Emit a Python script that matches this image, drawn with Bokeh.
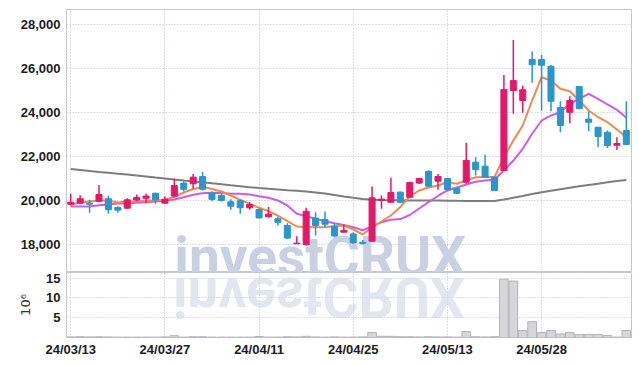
from bokeh.plotting import figure
from bokeh.layouts import column
from bokeh.models import ColumnDataSource, Range1d, FixedTicker, NumeralTickFormatter, Label, Div
from bokeh.embed import file_html
from bokeh.resources import INLINE

# ---------------- data ----------------
tick_pos = [0, 10, 20, 30, 40, 50]
tick_labels = ["24/03/13", "24/03/27", "24/04/11", "24/04/25", "24/05/13", "24/05/28"]

opens = [19830, 19880, 19880, 19970, 20080, 19680, 19650, 20020, 20100, 20330,
         19880, 20200, 20790, 20760, 21090, 20350, 20230, 19940, 19990, 19670,
         19590, 19260, 19170, 18860, 18030, 17990, 19200, 19140, 18820, 18560,
         18480, 18100, 18150, 20000, 19920, 20380, 20150, 20790, 21330, 20880,
         21000, 20560, 20830, 21740, 21560, 21060, 21360, 25000, 24545, 26410,
         26410, 26100, 24230, 24010, 25180, 23700, 23330, 23100, 22510, 23180]
highs = [20310, 20240, 20030, 20710, 20230, 19740, 20100, 20270, 20320, 20350,
         20180, 20990, 20860, 21210, 21290, 20410, 20300, 20060, 20030, 19920,
         19640, 19700, 19270, 18970, 18380, 19670, 19470, 19500, 18940, 18910,
         18560, 18210, 20640, 20230, 21030, 20410, 20850, 21030, 21360, 21210,
         21030, 20600, 22620, 21970, 22080, 21100, 25710, 27300, 25230, 26770,
         26620, 26170, 24510, 24740, 25180, 24050, 23330, 23180, 22880, 24510]
lows = [19770, 19850, 19440, 19920, 19400, 19440, 19620, 19970, 19900, 19850,
        19850, 20150, 20420, 20530, 20450, 19970, 19950, 19580, 19400, 19580,
        19180, 19230, 18860, 18260, 18030, 17950, 18410, 18770, 18330, 18560,
        18030, 18000, 18150, 19620, 19890, 19880, 20120, 20760, 20640, 20490,
        20450, 20300, 20760, 21140, 21030, 20450, 21360, 23940, 23990, 25350,
        24090, 24060, 23100, 23510, 24170, 23150, 22420, 22390, 22300, 22550]
closes = [19920, 20080, 19830, 20270, 19580, 19560, 20030, 20140, 20200, 20030,
          20060, 20680, 20510, 21060, 20510, 20050, 20000, 19740, 19670, 19820,
          19210, 19380, 19010, 18290, 18060, 19510, 18860, 18920, 18390, 18640,
          18080, 18050, 20120, 20060, 20360, 19920, 20820, 21000, 20650, 21090,
          20500, 20330, 21820, 21400, 21060, 20450, 25045, 25450, 25030, 26170,
          26150, 24510, 23410, 24550, 24170, 23560, 22910, 22500, 22590, 22550]

ma_short = [19818, 19909, 19955, 20000, 20000, 19909, 19955, 19955, 20000, 20000,
            20023, 20159, 20364, 20523, 20614, 20523, 20409, 20227, 20032, 19850,
            19668, 19514, 19318, 19059, 18818, 18795, 18786, 18795, 18832, 18864,
            18682, 18455, 18773, 19045, 19318, 19705, 20182, 20455, 20591, 20682,
            20832, 20759, 20909, 21059, 21068, 21068, 21968, 22727, 23409, 24545,
            25605, 25455, 25077, 24968, 24545, 24091, 23786, 23559, 23227, 22877]
ma_mid = [19727, 19727, 19727, 19786, 19818, 19864, 19864, 19895, 19923, 19955,
          20000, 20045, 20150, 20259, 20332, 20350, 20341, 20305, 20305, 20273,
          20195, 20123, 20000, 19773, 19395, 19286, 19168, 19059, 18968, 18886,
          18786, 18650, 18818, 19014, 19127, 19155, 19341, 19636, 19923, 20205,
          20455, 20591, 20727, 20855, 20909, 20945, 21364, 21818, 22350, 23032,
          23636, 23864, 24014, 24395, 24623, 24850, 24623, 24364, 24123, 23759]
ma_long = [21432, 21386, 21341, 21295, 21259, 21218, 21177, 21136, 21091, 21045,
           21000, 20955, 20909, 20864, 20832, 20786, 20741, 20695, 20650, 20605,
           20568, 20532, 20500, 20468, 20441, 20409, 20364, 20318, 20250, 20182,
           20123, 20068, 20036, 20023, 20014, 20009, 20000, 20000, 20000, 20000,
           19991, 19986, 19982, 19977, 19973, 19973, 20045, 20123, 20205, 20291,
           20373, 20445, 20514, 20582, 20645, 20705, 20764, 20827, 20882, 20932]

volume_m = [0.15, 0.2, 0.15, 0.2, 0.15, 0.1, 0.1, 0.1, 0.1, 0.1,
            0.15, 0.45, 0.1, 0.2, 0.2, 0.1, 0.1, 0.1, 0.1, 0.1,
            0.25, 0.1, 0.1, 0.2, 0.15, 0.3, 0.15, 0.1, 0.15, 0.1,
            0.1, 0.15, 1.25, 0.3, 0.3, 0.2, 0.2, 0.15, 0.2, 0.15,
            0.15, 0.1, 1.5, 0.2, 0.15, 0.2, 14.7, 14.25, 1.75, 4.0,
            1.25, 1.75, 0.9, 1.25, 0.75, 0.75, 0.75, 0.5, 0.1, 1.75]

price_ticks = [18000, 20000, 22000, 24000, 26000, 28000]
vol_ticks = [5, 10, 15]

# ---------------- styling ----------------
UP = "#e2186b"
DOWN = "#2c95c9"
GRID = "#b7bdd6"
OUTLINE = "#c4c8d2"
TICK_FONT = "Liberation Sans"

n = len(opens)
xs = list(range(n))
colors = [UP if c >= o else DOWN for o, c in zip(opens, closes)]
src = ColumnDataSource(dict(
    x=xs, open=opens, high=highs, low=lows, close=closes,
    top=[max(o, c) for o, c in zip(opens, closes)],
    bottom=[min(o, c) for o, c in zip(opens, closes)],
    color=colors, ma_s=ma_short, ma_m=ma_mid, ma_l=ma_long, vol=volume_m,
))

x_range = Range1d(-0.45, 59.55)

def style_axis(ax):
    ax.axis_line_color = None
    ax.major_tick_line_color = None
    ax.minor_tick_line_color = None
    ax.major_tick_out = 0
    ax.major_tick_in = 0
    ax.minor_tick_out = 0
    ax.minor_tick_in = 0
    ax.major_label_text_font = TICK_FONT
    ax.major_label_text_font_size = "13px"
    ax.major_label_text_font_style = "bold"
    ax.major_label_text_color = "#1c1c1c"

def style(fig):
    fig.outline_line_color = OUTLINE
    fig.outline_line_width = 1
    fig.background_fill_color = "white"
    fig.border_fill_color = "white"
    for g in (fig.xgrid, fig.ygrid):
        g.grid_line_color = GRID
        g.grid_line_dash = "1 2"
        g.grid_line_width = 1
    for ax in fig.yaxis:
        style_axis(ax)
        ax.major_label_standoff = 6

p = figure(width=639, height=272, x_range=x_range, y_range=Range1d(16727, 28682),
           output_backend="svg", toolbar_location=None, x_axis_location=None,
           min_border_left=66, min_border_right=8, min_border_top=9, min_border_bottom=0)
style(p)
p.xgrid.ticker = FixedTicker(ticks=tick_pos)
p.yaxis.ticker = FixedTicker(ticks=price_ticks)
p.ygrid.ticker = FixedTicker(ticks=price_ticks)
p.yaxis.formatter = NumeralTickFormatter(format="0,0")

wm = Label(x=11.0, y=18900, text="investCRUX", text_font="Roboto",
           text_font_style="bold", text_font_size="55px", text_color="#c9d0e4",
           text_baseline="top", level="underlay")
p.add_layout(wm)

p.line("x", "ma_l", source=src, line_color="#7d7d7d", line_width=2)
p.line("x", "ma_m", source=src, line_color="#c95de6", line_width=2)
p.line("x", "ma_s", source=src, line_color="#ef8a4f", line_width=2)
p.segment(x0="x", y0="low", x1="x", y1="high", source=src, line_color="color", line_width=1.5)
p.vbar(x="x", width=0.64, top="top", bottom="bottom", source=src,
       fill_color="color", line_color="color", line_width=1)

v = figure(width=639, height=94, x_range=x_range, y_range=Range1d(0, 16.4),
           output_backend="svg", toolbar_location=None,
           min_border_left=66, min_border_right=8, min_border_top=0, min_border_bottom=29)
style(v)
v.vbar(x="x", width=0.92, top="vol", bottom=0, source=src,
       fill_color="#d6d6da", line_color="#b3b3ba", line_width=1)
v.xaxis.ticker = FixedTicker(ticks=tick_pos)
v.xgrid.ticker = FixedTicker(ticks=tick_pos)
v.xaxis.major_label_overrides = {t: l for t, l in zip(tick_pos, tick_labels)}
style_axis(v.xaxis[0])
v.xaxis.major_label_standoff = 4
v.yaxis.ticker = FixedTicker(ticks=vol_ticks)
v.ygrid.ticker = FixedTicker(ticks=vol_ticks)
v.yaxis.axis_label = "10\u2076"
v.yaxis.axis_label_text_font = "DejaVu Sans"
v.yaxis.axis_label_text_font_style = "normal"
v.yaxis.axis_label_text_font_size = "13px"
v.yaxis.axis_label_text_color = "#333333"
v.yaxis.axis_label_standoff = 10

refl = Div(text=(
    '<div style="position:fixed;left:173px;top:232px;font-family:Roboto;font-weight:bold;'
    'font-size:55px;line-height:55px;color:rgba(214,219,232,0.7);white-space:nowrap;'
    'transform:scaleY(-1);transform-origin:0 46px;pointer-events:none;">investCRUX</div>'),
    width=1, height=0)

layout = column(p, v, refl, spacing=0)
open("out.html", "w").write(file_html(layout, INLINE))
